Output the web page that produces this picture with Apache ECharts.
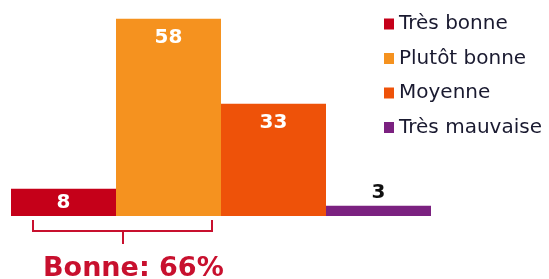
<!DOCTYPE html>
<html>
<head>
<meta charset="utf-8">
<script src="https://cdn.jsdelivr.net/npm/echarts@6/dist/echarts.min.js"></script>
<style>
  html, body { margin: 0; padding: 0; background: #fff; }
  #chart { width: 549px; height: 279px; }
</style>
</head>
<body>
<div id="chart"></div>
<script>
// données
const seriesNames = ["Très bonne", "Plutôt bonne", "Moyenne", "Très mauvaise"];
const seriesValues = [8, 58, 33, 3];
const seriesColors = ["#c50019", "#f5921f", "#ee5209", "#7b2180"];
const bracketText = "Bonne: 66%";

const chart = echarts.init(document.getElementById("chart"));

const labelStyle = {
    show: true,
    color: "#fff",
    fontFamily: "DejaVu Sans",
    fontWeight: "bold",
    fontSize: 20,
    position: "insideTop",
    distance: 9
};

const series = seriesNames.map((name, i) => {
    let label = Object.assign({}, labelStyle);
    if (seriesValues[i] < 10) {
        // petites barres
        label.position = i === 0 ? "inside" : "top";
        label.distance = 3;
        if (i !== 0) label.color = "#111";
    }
    return {
        name: name,
        type: "bar",
        data: [seriesValues[i]],
        itemStyle: {color: seriesColors[i]},
        barGap: "0%",
        barCategoryGap: "0%",
        label: label
    };
});

const option = {
    animation: false,
    grid: {left: 11, top: 12, width: 420, height: 204},
    legend: {
        orient: "vertical",
        left: 379,
        top: 8,
        itemWidth: 10,
        itemHeight: 11,
        itemGap: 12.5,
        icon: "rect",
        textStyle: {
            fontFamily: "DejaVu Sans",
            fontSize: 20,
            lineHeight: 22,
            color: "#1a1a30"
        },
        data: seriesNames
    },
    xAxis: {
        type: "category",
        data: [""],
        axisLine: {show: false},
        axisTick: {show: false},
        axisLabel: {show: false}
    },
    yAxis: {
        type: "value",
        min: 0,
        max: 60,
        show: false,
        splitLine: {show: false}
    },
    graphic: [
        {
            type: "polyline",
            shape: {points: [[33, 220], [33, 231], [212, 231], [212, 220]]},
            style: {stroke: "#c8102e", lineWidth: 2, fill: null}
        },
        {
            type: "line",
            shape: {x1: 123, y1: 231, x2: 123, y2: 244},
            style: {stroke: "#c8102e", lineWidth: 2}
        },
        {
            type: "text",
            left: 43,
            top: 255,
            style: {
                text: bracketText,
                fill: "#c8102e",
                font: "bold 27px 'DejaVu Sans'"
            }
        }
    ],
    series: series
};

chart.setOption(option);
</script>
</body>
</html>
